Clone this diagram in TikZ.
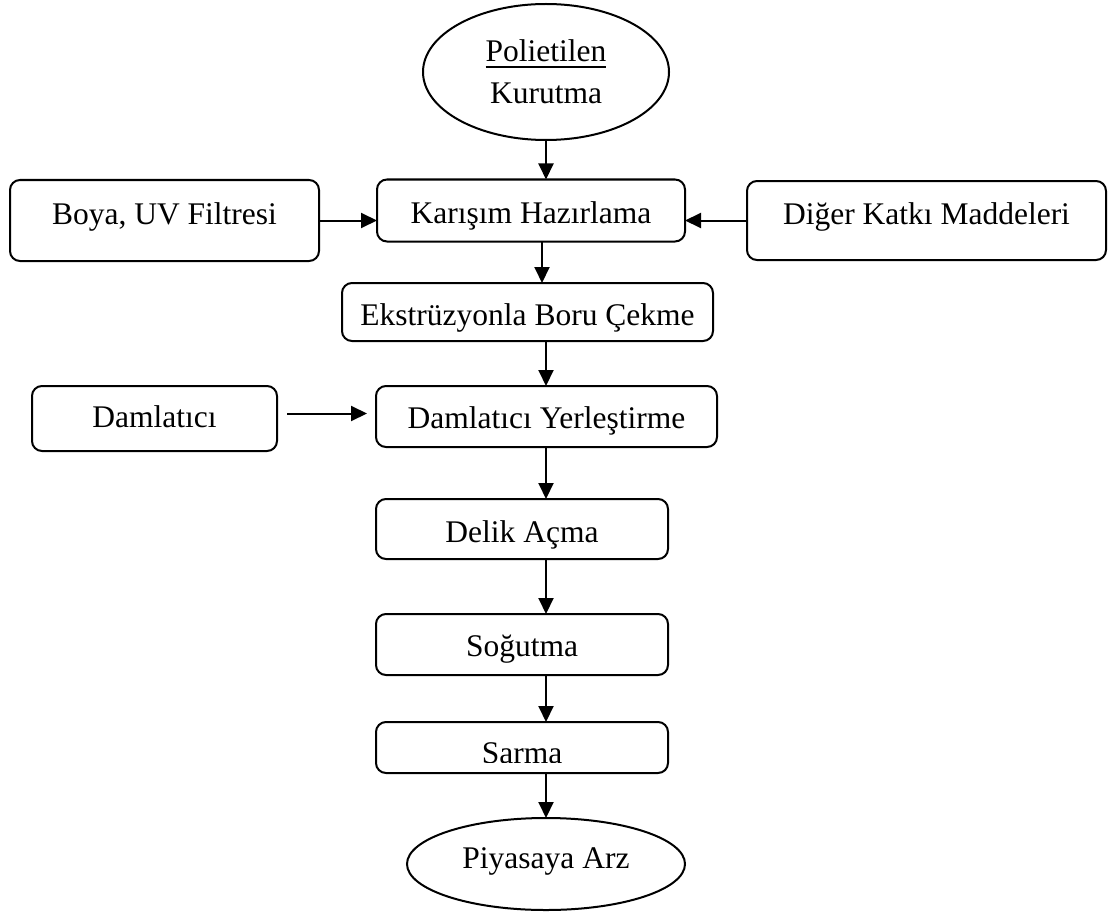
\documentclass[tikz,border=0pt]{standalone}
\usepackage{fontspec}
\setmainfont{Liberation Serif}
\usetikzlibrary{shapes.geometric,arrows.meta,calc}
% thick underline for the heading word
\newcommand{\thickul}[1]{\setbox0\hbox{#1}\rlap{\rule[-6pt]{\wd0}{1.8pt}}\box0}
\begin{document}
\begin{tikzpicture}[x=1pt,y=-1pt,
  every node/.style={inner sep=0pt,outer sep=0pt,
    font=\fontsize{31.5}{42}\selectfont},
  proc/.style={draw,line width=2pt,rounded corners=10pt},
  term/.style={draw,line width=2pt,ellipse},
  txt/.style 2 args={text height=#1pt,text depth=#2pt},
  arr/.style={line width=2pt,-{Triangle[length=16pt,width=15pt]}}]
\useasboundingbox (0,0) rectangle (1115,912);
\coordinate (spine) at (546,0);
\coordinate (spineb) at (542,0);

% main flow
\node[term,minimum width=246pt,minimum height=136pt,align=center] (poly) at (546,72) {\thickul{Polietilen}\\Kurutma};
\node[proc,txt={31}{6},minimum width=308pt,minimum height=62pt] (karisim) at (531,210.5) {Karışım Hazırlama};
\node[proc,txt={32}{5},minimum width=371pt,minimum height=58pt] (ekstr) at (527.5,312) {Ekstrüzyonla Boru Çekme};
\node[proc,txt={30}{7},minimum width=341pt,minimum height=61pt] (yerles) at (546.5,416.5) {Damlatıcı Yerleştirme};
\node[proc,txt={32}{5},minimum width=292pt,minimum height=60pt] (delik) at (522,529) {Delik Açma};
\node[proc,txt={30}{7},minimum width=292pt,minimum height=61pt] (sogut) at (522,644.5) {Soğutma};
\node[proc,minimum width=292pt,minimum height=51pt] (sarma) at (522,747.5) {};
\begin{scope}
  \clip (376,722) rectangle (668,762);
  \node[txt={34}{3}] (sarmatext) at (522,747.5) {Sarma};
\end{scope}
\node[term,txt={23}{14},minimum width=278pt,minimum height=92pt] (piyasa) at (546,864) {Piyasaya Arz};

% side inputs
\node[proc,txt={22}{15},minimum width=309pt,minimum height=81pt] (boya) at (164.5,220.5) {Boya, UV Filtresi};
\node[proc,txt={22}{15},minimum width=359pt,minimum height=79pt] (diger) at (926.5,220.5) {Diğer Katkı Maddeleri};
\node[proc,txt={27}{10},minimum width=245pt,minimum height=65pt] (damla) at (154.5,418.5) {Damlatıcı};

% connectors
\draw[arr] (poly.south) -- (poly.south |- karisim.north);
\draw[arr] (karisim.south -| spineb) -- (ekstr.north -| spineb);
\draw[arr] (ekstr.south -| spine) -- (yerles.north -| spine);
\draw[arr] (yerles.south -| spine) -- (delik.north -| spine);
\draw[arr] (delik.south -| spine) -- (sogut.north -| spine);
\draw[arr] (sogut.south -| spine) -- (sarma.north -| spine);
\draw[arr] (sarma.south -| spine) -- (piyasa.north);
\draw[arr] (boya.east) -- (boya.east -| karisim.west);
\draw[arr] (diger.west) -- (diger.west -| karisim.east);
\draw[arr,shorten <=10pt,shorten >=9pt] ($(damla.east)+(0,-5)$) -- ($(damla.east -| yerles.west)+(0,-5)$);
\end{tikzpicture}
\end{document}
